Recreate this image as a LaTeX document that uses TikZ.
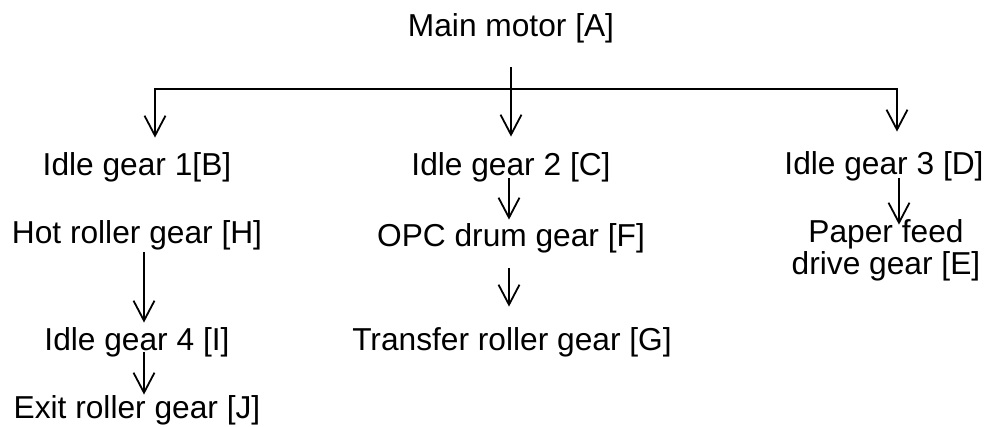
\documentclass[tikz,border=0pt]{standalone}
\usepackage{fontspec}
\setmainfont{Liberation Sans}
\usetikzlibrary{arrows.meta,calc}

\begin{document}
\begin{tikzpicture}[
      x=0.5pt, y=-0.5pt,
      texto/.style={inner sep=0pt, anchor=base, align=center,
        text height=11.5pt, text depth=3.4pt,
        font=\fontsize{15.85}{16.5}\selectfont},
      flecha/.style={-{Straight Barb[length=10pt,width=10.5pt]}, line width=0.9pt},
    ]
    \useasboundingbox (0,0) rectangle (990,427);

    \node[texto] (A) at (511,37)  {Main motor [A]};
    \node[texto] (B) at (137,176) {Idle gear 1[B]};
    \node[texto] (C) at (511,176) {Idle gear 2 [C]};
    \node[texto] (D) at (884,175) {Idle gear 3 [D]};
    \node[texto, text height=, text depth=] (E) at (886,275) {Paper feed\\drive gear [E]};
    \node[texto] (F) at (511,247) {OPC drum gear [F]};
    \node[texto] (G) at (512,350) {Transfer roller gear [G]};
    \node[texto] (H) at (137,243) {Hot roller gear [H]};
    \node[texto] (I) at (137,350) {Idle gear 4 [I]};
    \node[texto] (J) at (137,418) {Exit roller gear [J]};

    \coordinate (reparto) at (511,89);

    \draw[flecha] ([yshift=-11.6pt]A.south) -- ([yshift=8pt]C.north);
    \draw[flecha] (reparto) -| ([xshift=9pt,yshift=7.5pt]B.north);
    \draw[flecha] (reparto) -| ([xshift=6.5pt,yshift=10pt]D.north);
    \draw[flecha] ([xshift=3.5pt,yshift=-1pt]H.south) -- ([xshift=3.5pt,yshift=2pt]I.north);
    \draw[flecha] ([xshift=3.5pt,yshift=2.4pt]I.south) -- ([xshift=3.5pt]J.north);
    \draw[flecha] ([xshift=-1pt,yshift=2.4pt]C.south) -- ([xshift=-1pt,yshift=2pt]F.north);
    \draw[flecha] ([xshift=-1pt,yshift=-7pt]F.south) -- ([xshift=-1.5pt,yshift=10pt]G.north);
    \draw[flecha] ([xshift=7.5pt,yshift=1.9pt]D.south) -- ([xshift=6.5pt,yshift=-3pt]E.north);

  \end{tikzpicture}
\end{document}
